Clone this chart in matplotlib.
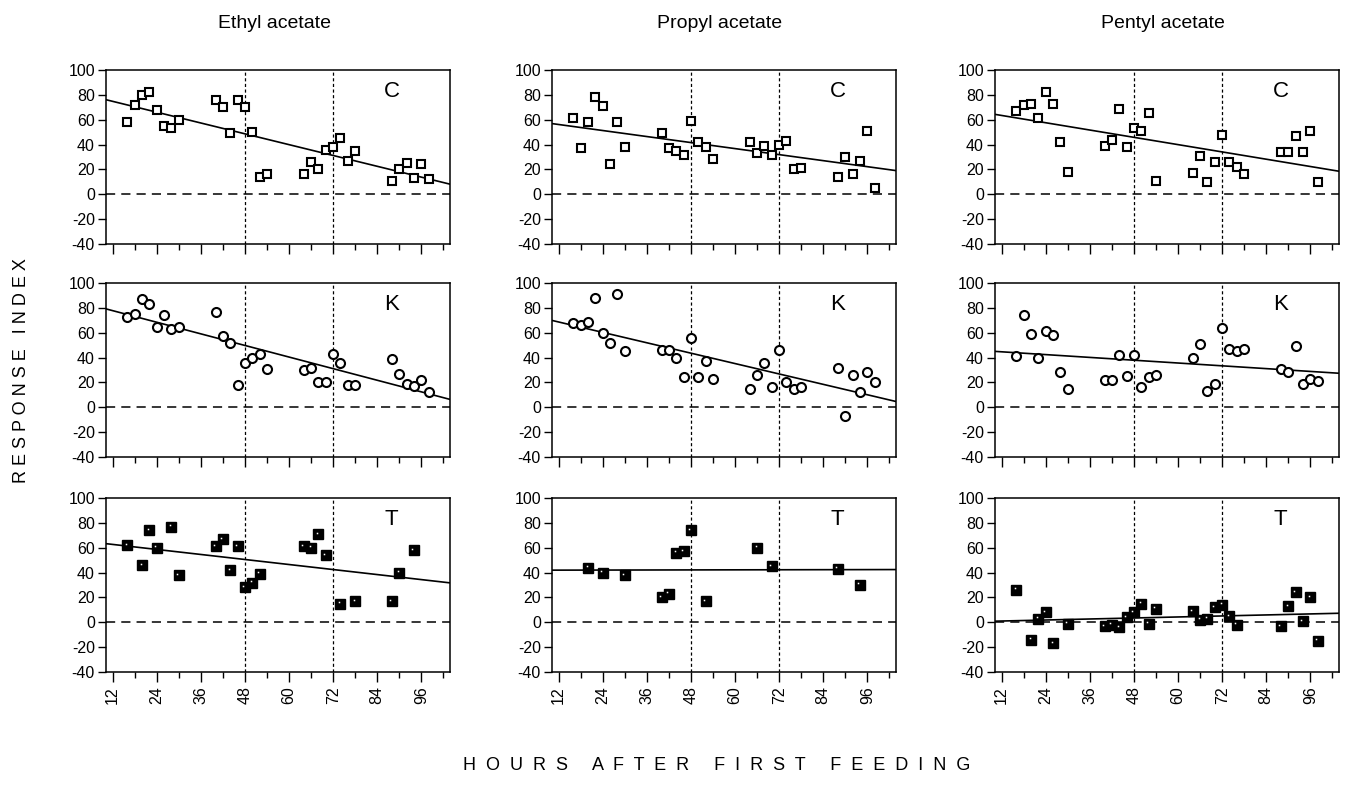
"""Response index over time for three acetates and three treatments."""

import matplotlib

matplotlib.use("Agg")

import matplotlib.pyplot as plt
import matplotlib.transforms as mtransforms
import numpy as np

plt.rcParams["font.family"] = ["Liberation Sans", "DejaVu Sans"]
plt.rcParams["axes.unicode_minus"] = False

COMPOUNDS = ["Ethyl acetate", "Propyl acetate", "Pentyl acetate"]
TREATMENTS = ["C", "K", "T"]

# sampling schedule shared by the C and K series
HOURS_CK = [16, 18, 20, 22, 24, 26, 28, 30,
            40, 42, 44, 46, 48, 50, 52, 54,
            64, 66, 68, 70, 72, 74, 76, 78,
            88, 90, 92, 94, 96, 98]

ETHYL_C = [58, 72, 80, 82, 68, 55, 53, 60, 76, 70, 49, 76, 70, 50, 14, 16,
           16, 26, 20, 36, 38, 45, 27, 35, 11, 20, 25, 13, 24, 12]
PROPYL_C = [61, 37, 58, 78, 71, 24, 58, 38, 49, 37, 35, 32, 59, 42, 38, 28,
            42, 33, 39, 32, 40, 43, 20, 21, 14, 30, 16, 27, 51, 5]
PENTYL_C = [67, 72, 73, 61, 82, 73, 42, 18, 39, 44, 69, 38, 53, 51, 65, 11,
            17, 31, 10, 26, 48, 26, 22, 16, 34, 34, 47, 34, 51, 10]

ETHYL_K = [73, 75, 87, 83, 65, 74, 63, 65, 77, 57, 52, 18, 36, 40, 43, 31,
           30, 32, 20, 20, 43, 36, 18, 18, 39, 27, 19, 17, 22, 12]
PROPYL_K = [68, 66, 69, 88, 60, 52, 91, 45, 46, 46, 40, 24, 56, 24, 37, 23,
            15, 26, 36, 16, 46, 20, 15, 16, 32, -7, 26, 12, 28, 20]
PENTYL_K = [41, 74, 59, 40, 61, 58, 28, 15, 22, 22, 42, 25, 42, 16, 24, 26,
            40, 51, 13, 19, 64, 47, 45, 47, 31, 28, 49, 19, 23, 21]

HOURS_ETHYL_T = [16, 20, 22, 24, 28, 30, 40, 42, 44, 46, 48, 50, 52,
                 64, 66, 68, 70, 74, 78, 88, 90, 94]
ETHYL_T = [62, 46, 74, 60, 77, 38, 61, 67, 42, 61, 28, 32, 39,
           61, 60, 71, 54, 15, 17, 17, 40, 58]

HOURS_PROPYL_T = [20, 24, 30, 40, 42, 44, 46, 48, 52, 66, 70, 88, 94]
PROPYL_T = [44, 40, 38, 20, 23, 56, 57, 74, 17, 60, 45, 43, 30]

HOURS_PENTYL_T = [16, 20, 22, 24, 26, 30, 40, 42, 44, 46, 48, 50, 52, 54,
                  64, 66, 68, 70, 72, 74, 76, 88, 90, 92, 94, 96, 98]
PENTYL_T = [26, -14, 3, 8, -17, -1, -3, -2, -4, 4, 8, 15, -1, 11,
            9, 2, 3, 12, 14, 5, -2, -3, 13, 24, 1, 20, -15]

# fitted regression lines (intercept at hour 0, slope per hour), row by row
FIT_INTERCEPT = [[83.5, 61.0, 69.3], [87.1, 77.0, 46.9], [66.7, 41.9, 0.2]]
FIT_SLOPE = [[-0.726, -0.404, -0.489], [-0.778, -0.697, -0.188], [-0.337, 0.005, 0.068]]

SERIES = [
    [(HOURS_CK, ETHYL_C), (HOURS_CK, PROPYL_C), (HOURS_CK, PENTYL_C)],
    [(HOURS_CK, ETHYL_K), (HOURS_CK, PROPYL_K), (HOURS_CK, PENTYL_K)],
    [(HOURS_ETHYL_T, ETHYL_T), (HOURS_PROPYL_T, PROPYL_T), (HOURS_PENTYL_T, PENTYL_T)],
]

XLIM = (10.2, 103.8)
W, H = 1347, 800
COL_LEFT = [106, 552, 995]
ROW_TOP = [70, 283, 498]
AX_W, AX_H = 344, 174


def spaced(text, gap="  ", word_gap="     "):
    return word_gap.join(gap.join(word) for word in text.split())


fig = plt.figure(figsize=(W / 100, H / 100), dpi=100)

for r in range(3):
    for c in range(3):
        ax = fig.add_axes([COL_LEFT[c] / W, 1 - (ROW_TOP[r] + AX_H) / H, AX_W / W, AX_H / H])
        hours, values = SERIES[r][c]

        ax.axhline(0, color="black", linestyle=(0, (6, 4)), linewidth=1.1, zorder=1)
        for vx in (48, 72):
            ax.axvline(vx, color="black", linestyle=(0, (2.5, 2)), linewidth=0.9, zorder=1)

        xs = np.array(XLIM)
        ax.plot(xs, FIT_INTERCEPT[r][c] + FIT_SLOPE[r][c] * xs, color="black",
                linewidth=1.2, zorder=2)

        if r == 0:
            ax.plot(hours, values, linestyle="none", marker="s", ms=6.3, mfc="white",
                    mec="black", mew=1.5, zorder=3)
        elif r == 1:
            ax.plot(hours, values, linestyle="none", marker="o", ms=6.5, mfc="white",
                    mec="black", mew=1.5, zorder=3)
        else:
            ax.plot(hours, values, linestyle="none", marker="s", ms=7.5, mfc="black",
                    mec="black", mew=1, zorder=3)
            shine = mtransforms.offset_copy(ax.transData, fig=fig, x=-1.5, y=1.5, units="dots")
            ax.plot(hours, values, linestyle="none", marker="s", ms=1.1, mfc="white",
                    mec="none", transform=shine, zorder=4)

        ax.text(0.83, 0.875, TREATMENTS[r], transform=ax.transAxes, fontsize=16,
                ha="center", va="center")

        ax.set_xlim(*XLIM)
        ax.set_ylim(-40, 100)
        ax.set_yticks(range(-40, 101, 20))
        ax.set_xticks(range(12, 97, 12))
        ax.set_xticks(range(18, 103, 12), minor=True)
        ax.tick_params(axis="y", direction="out", length=6, width=1, labelsize=11.5, pad=2)
        ax.tick_params(axis="x", which="major", direction="out", length=7, width=1,
                       labelsize=11.5, labelrotation=90, pad=3)
        ax.tick_params(axis="x", which="minor", direction="out", length=4, width=1)
        if r < 2:
            ax.tick_params(axis="x", labelbottom=False)
        for spine in ax.spines.values():
            spine.set_linewidth(1.1)

for c, name in enumerate(COMPOUNDS):
    fig.text((COL_LEFT[c] + AX_W / 2 - 4) / W, 1 - 24 / H, name, fontsize=14,
             ha="center", va="center")

fig.text(22 / W, 1 - 371 / H, spaced("RESPONSE INDEX", " ", "   "), rotation=90,
         fontsize=13, ha="center", va="center")
fig.text(717 / W, 1 - 765 / H, spaced("HOURS AFTER FIRST FEEDING"),
         fontsize=13, ha="center", va="center")

fig.savefig("out.png", dpi=100)
